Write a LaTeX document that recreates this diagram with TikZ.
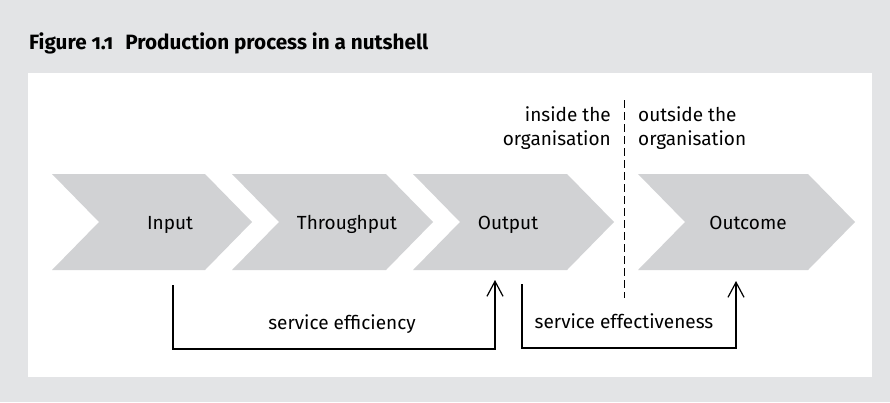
\documentclass[tikz,border=0pt]{standalone}
\usepackage{fontspec}
\setmainfont{Fira Sans}
\usetikzlibrary{arrows.meta}
\definecolor{framegray}{HTML}{E3E4E6}
\definecolor{chevgray}{HTML}{D1D2D4}
\tikzstyle{chevron}=[fill=chevgray]
\tikzstyle{stage}=[inner sep=0pt,font=\fontsize{19}{24}\selectfont]
\tikzstyle{side}=[inner sep=0pt,align=left,font=\fontsize{19}{24}\selectfont]
\tikzstyle{flow}=[draw,line width=1.2pt,-{Straight Barb[length=15pt,width=16pt]}]
\tikzstyle{border}=[draw,line width=1pt,dash pattern=on 8pt off 4pt]

\begin{document}
\begin{tikzpicture}[x=1pt,y=-1pt]
    % Frame and white panel
    \fill[framegray] (0,0) rectangle (890,402);
    \useasboundingbox (0,0) rectangle (890,402);
    \fill[white] (28,73) rectangle (872,377);
    \node[anchor=base west,inner sep=0pt,font=\bfseries\fontsize{20.7}{24}\selectfont\addfontfeatures{Numbers=OldStyle}]
        (title) at (29,49) {Figure 1.1\hspace{0.35em} Production process in a nutshell};
    % First we draw the stages
    \foreach \l/\r/\cx/\name/\txt in {52/205/170/inp/Input, 232/386/347/thr/Throughput,
                                      413/567/508/outp/Output, 638/808/748/outc/Outcome}
    {
        \fill[chevron] (\l,174) -- (\r,174) -- (\r+47,222) -- (\r,270) -- (\l,270) -- (\l+47,222) -- cycle;
        \node[stage,anchor=base] (\name) at (\cx,229) {\txt};
    }
    % Inside / outside the organisation
    \coordinate (divtop) at (624,100);
    \coordinate (divbot) at (624,298);
    \draw[border] (divtop) -- (divbot);
    \node[side,align=right,anchor=north east] (inside) at (611,106) {inside the\\organisation};
    \node[side,anchor=north west] (outside) at (638,106) {outside the\\organisation};
    % Connect stages with brackets
    \coordinate (effin) at (173,285);
    \coordinate (effout) at (495,280);
    \coordinate (ectin) at (522,284);
    \coordinate (ectout) at (736,281);
    \draw[flow] (effin) -- ++(0,64) -| (effout);
    \draw[flow] (ectin) -- ++(0,64) -| (ectout);
    \node[stage,anchor=base] (effic) at (342,329) {service efficiency};
    \node[stage,anchor=base] (effect) at (624,328) {service effectiveness};
\end{tikzpicture}
\end{document}
